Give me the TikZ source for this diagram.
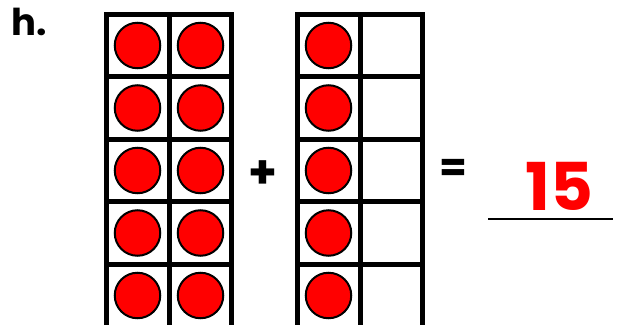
\documentclass[tikz,border=0pt]{standalone}
\usepackage{fontspec}
\setmainfont{Poppins}
\begin{document}
\begin{tikzpicture}[x=1pt,y=-1pt,
  gridline/.style={line width=5pt, line cap=rect},
  counter/.style={circle, fill=red, draw=black, line width=2pt, minimum size=45.5pt, inner sep=0pt},
  lbl/.style={inner sep=0pt, anchor=base west}]
\useasboundingbox (0,0) rectangle (621,324);
\clip (0,0) rectangle (621,324);
% left ten-frame
\foreach \x in {106,169.5,231.5} \draw[gridline] (\x,14.5) -- (\x,340);
\foreach \y in {14.5,76.5,139,201.5,264} \draw[gridline] (106,\y) -- (231.5,\y);
% right ten-frame
\foreach \x in {297.5,360,422} \draw[gridline] (\x,14.5) -- (\x,340);
\foreach \y in {14.5,76.5,139,201.5,264} \draw[gridline] (297.5,\y) -- (422,\y);
% counters
\foreach \r [count=\i] in {45.5,108,170.5,233,295.5} {
  \node[counter] (a\i) at (137.5,\r) {};
  \node[counter] (b\i) at (200.5,\r) {};
  \node[counter] (c\i) at (328.5,\r) {};
}
% texts
\node[lbl] (h) at (11,35) {\fontsize{37}{37}\selectfont\bfseries h.};
\node[inner sep=0pt] (plus) at (263,174.5) {\fontsize{46}{46}\selectfont\bfseries +};
\node[inner sep=0pt] (eq) at (453.5,170) {\fontsize{40}{40}\selectfont\bfseries =};
\node[lbl, text=red] (ans) at (525,210) {\fontsize{66}{66}\selectfont\bfseries 15};
\coordinate (u1) at (488,219);
\coordinate (u2) at (613,219);
\draw[line width=2pt] (u1) -- (u2);
\end{tikzpicture}
\end{document}
